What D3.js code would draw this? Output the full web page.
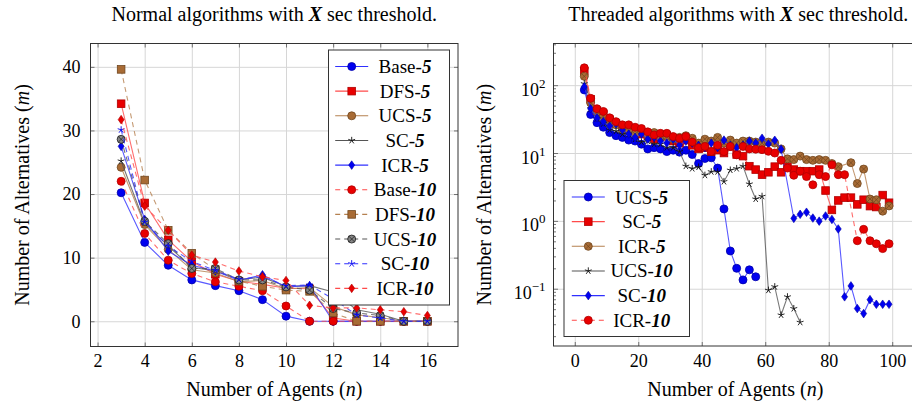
<!DOCTYPE html>
<html>
<head>
<meta charset="utf-8">
<script src="https://cdnjs.cloudflare.com/ajax/libs/d3/7.8.5/d3.min.js"></script>
<style>
body { margin: 0; background: #fff; }
text { font-family: "Liberation Serif", "DejaVu Serif", serif; fill: #000; }
</style>
</head>
<body>
<svg id="chart" width="912" height="406"></svg>
<script>
// grafico da esquerda: algoritmos normais
var agentes = [3, 4, 5, 6, 7, 8, 9, 10, 11, 12, 13, 14, 15, 16];
var base5  = [20.2, 12.4, 8.8, 6.5, 5.6, 4.8, 3.4, 0.8, 0, 0, 0, 0, 0, 0];
var dfs5   = [34.2, 18.6, 12.8, 9.4, 7.4, 6.3, 5.8, 5.2, 5.1, 0.5, 0, 0, 0, 0];
var ucs5   = [24.2, 15.2, 11.3, 8.1, 7.6, 6.2, 6.4, 5.1, 5.3, 2.3, 1.0, 0.6, 0, 0];
var sc5    = [25.2, 15.4, 11.8, 8.5, 7.9, 6.6, 6.9, 5.5, 5.6, 4.6, 1.8, 1.1, 0, 0];
var icr5   = [27.5, 16.0, 11.0, 8.8, 7.9, 6.4, 7.3, 5.4, 5.6, 0, 0, 0, 0, 0];
var base10 = [22.0, 13.8, 9.6, 7.5, 6.2, 5.5, 4.8, 2.4, 0, 0, 0, 0, 0, 0];
var dfs10  = [39.6, 22.2, 14.3, 10.7, 8.1, 6.3, 5.5, 4.9, 4.7, 1.3, 0, 0, 0, 0];
var ucs10  = [28.6, 15.7, 12.2, 8.3, 8.3, 6.5, 6.5, 5.4, 4.9, 2.0, 1.3, 0.9, 0, 0];
var sc10   = [30.1, 15.6, 11.8, 9.4, 8.0, 6.6, 7.0, 5.6, 5.7, 3.5, 1.0, 0.5, 0, 0];
var icr10  = [31.7, 18.1, 14.3, 10.4, 9.3, 7.9, 7.0, 6.4, 2.5, 2.1, 2.1, 1.8, 1.5, 0.9];
var ticksXEsq = [2, 4, 6, 8, 10, 12, 14, 16];
var ticksYEsq = [0, 10, 20, 30, 40];

// grafico da direita: algoritmos com threads
var agentesT = [3, 5, 7, 9, 11, 13, 15, 17, 19, 21, 23, 25, 27, 29, 31, 33, 35, 37, 39, 41,
                43, 45, 47, 49, 51, 53, 55, 57, 59, 61, 63, 65, 67, 69, 71, 73, 75, 77, 79, 81,
                83, 85, 87, 89, 91, 93, 95, 97, 99];
var ucs5T  = [85, 37, 28, 24, 20, 18, 17, 15.5, 15, 13.5, 11.5, 12, 11.5, 10.5, 11, 10.3, 11, 9.5, 7.0, 8.3,
              8.5, 6.0, 1.5, 0.36, 0.2, 0.135, 0.19, 0.15];
var sc5T   = [160, 62, 42, 38, 31, 27, 24, 23, 21, 19, 18, 16, 17.5, 18, 15, 14, 15.5, 13, 11.5, 12,
              10.5, 11, 10, 12.5, 9.5, 9.0, 6.4, 5.7, 4.8, 5.2, 6.3, 5.2, 6.3, 5.7, 5.4, 5.4, 5.4, 5.7, 2.8, 1.45,
              2.0, 2.2, 2.2, 1.75, 2.05, 1.65, 1.6, 2.4, 1.85];
var icr5T  = [135, 55, 40, 35, 30, 26, 22, 21, 19, 21, 18, 20, 17, 17.5, 16, 17, 18, 16.5, 14, 16,
              15, 17, 14, 15.5, 14, 15, 15, 14.5, 14, 14.5, 14, 11.5, 8.2, 8.0, 9.0, 8.0, 7.8, 8.0, 7.8, 7.0,
              6.3, null, 7.2, 3.55, 5.8, 2.1, 2.05, 1.39, 1.66];
var ucs10T = [105, 45, 32, 27, 22, 21, 19, 19, 16, 14.5, 15, 13.5, 13.5, 12, 12, 10.5, 6.4, 5.9, 6.2, 4.7,
              5.3, 5.3, 3.8, 5.6, 5.9, 6.4, 3.5, 2.1, 2.3, 0.095, 0.107, 0.041, 0.076, 0.051, 0.032];
var sc10T  = [95, 45, 33, 29, 25, 27, 22, 19, 17, 19, 16, 17, 15, 14, 16, 13, 15, 14, 13, 12,
              14, 12, 15.5, 13, 12, 13, 15, 14, 16.5, 13.6, 15.4, 11.4, null, 1.09, 1.25, 1.34, 1.1, 0.99, 1.18, 1.05,
              0.76, 0.076, 0.11, 0.051, 0.043, 0.069, 0.059, 0.059, 0.059];
var icr10T = [180, 64, 45, 41, 33, 29, 26, 26, 24, 23, 20.5, 18.5, 19.5, 19.5, 17.5, 16.5, 17.5, 14.5, 12, 12.5,
              10.5, 13, 10.5, 12.5, 9.4, 12.5, 11.5, 11.4, 11.2, 10.6, 10, 7.8, 6.0, 4.7, 5.4, 4.5, 3.4, 4.8, 4.5, 6.7,
              4.8, 4.8, null, 0.51, 0.75, 0.51, 0.46, 0.39, 0.46];
var ticksXDir = [0, 20, 40, 60, 80, 100];
var ticksYDir = [0.1, 1, 10, 100];

var azul   = {linha: "#3030ff", fill: "#0000f0", borda: "#0000a8"};
var vermelho = {linha: "#ff4a4a", fill: "#e80000", borda: "#b00000"};
var marrom = {linha: "#b5804f", fill: "#a86b35", borda: "#70461e"};
var preto  = {linha: "#555555", fill: "#111111", borda: "#111111"};
var cinza  = {linha: "#555555", fill: "#858585", borda: "#1a1a1a"};

var seriesNormais = [
    {nome: "Base", t: "5",  valores: base5,  cor: azul,     marca: "circulo",  tracejado: false},
    {nome: "DFS",  t: "5",  valores: dfs5,   cor: vermelho, marca: "quadrado", tracejado: false},
    {nome: "UCS",  t: "5",  valores: ucs5,   cor: marrom,   marca: "circulo",  tracejado: false},
    {nome: "SC",   t: "5",  valores: sc5,    cor: preto,    marca: "estrela",  tracejado: false},
    {nome: "ICR",  t: "5",  valores: icr5,   cor: azul,     marca: "losango",  tracejado: false},
    {nome: "Base", t: "10", valores: base10, cor: vermelho, marca: "circulo",  tracejado: true},
    {nome: "DFS",  t: "10", valores: dfs10,  cor: marrom,   marca: "quadrado", tracejado: true},
    {nome: "UCS",  t: "10", valores: ucs10,  cor: cinza,    marca: "otimes",   tracejado: true},
    {nome: "SC",   t: "10", valores: sc10,   cor: azul,     marca: "estrela",  tracejado: true},
    {nome: "ICR",  t: "10", valores: icr10,  cor: vermelho, marca: "losango",  tracejado: true}
];

var seriesThreads = [
    {nome: "UCS", t: "5",  valores: ucs5T,  cor: azul,     marca: "circulo",  tracejado: false},
    {nome: "SC",  t: "5",  valores: sc5T,   cor: vermelho, marca: "quadrado", tracejado: false},
    {nome: "ICR", t: "5",  valores: icr5T,  cor: marrom,   marca: "otimes",   tracejado: false},
    {nome: "UCS", t: "10", valores: ucs10T, cor: preto,    marca: "estrela",  tracejado: false},
    {nome: "SC",  t: "10", valores: sc10T,  cor: azul,     marca: "losango",  tracejado: false},
    {nome: "ICR", t: "10", valores: icr10T, cor: vermelho, marca: "circulo",  tracejado: true}
];

var svg = d3.select("#chart");

function desenharMarca(g, tipo, x, y, cor) {
    switch(tipo) {
        case "circulo":
            g.append("circle").attr("cx", x).attr("cy", y).attr("r", 4)
                .attr("fill", cor.fill).attr("stroke", cor.borda).attr("stroke-width", 0.8);
            break;
        case "quadrado":
            g.append("rect").attr("x", x - 3.8).attr("y", y - 3.8).attr("width", 7.6).attr("height", 7.6)
                .attr("fill", cor.fill).attr("stroke", cor.borda).attr("stroke-width", 0.8);
            break;
        case "losango":
            g.append("path")
                .attr("d", "M" + x + "," + (y - 4.3) + "L" + (x + 3) + "," + y + "L" + x + "," + (y + 4.3) + "L" + (x - 3) + "," + y + "Z")
                .attr("fill", cor.fill).attr("stroke", cor.borda).attr("stroke-width", 0.6);
            break;
        case "estrela":
            var d = "";
            for (var k = 0; k < 5; k++) {
                var a = (-90 + 72 * k) * Math.PI / 180;
                d += "M" + x + "," + y + "L" + (x + 3.6 * Math.cos(a)) + "," + (y + 3.6 * Math.sin(a));
            }
            g.append("path").attr("d", d).attr("fill", "none")
                .attr("stroke", cor.fill).attr("stroke-width", 0.9);
            break;
        case "otimes":
            g.append("circle").attr("cx", x).attr("cy", y).attr("r", 4)
                .attr("fill", cor.fill).attr("stroke", cor.borda).attr("stroke-width", 0.8);
            var r = 2.8;
            g.append("path")
                .attr("d", "M" + (x - r) + "," + (y - r) + "L" + (x + r) + "," + (y + r) + "M" + (x - r) + "," + (y + r) + "L" + (x + r) + "," + (y - r))
                .attr("stroke", cor.borda).attr("stroke-width", 0.7);
            break;
    }
}

function desenharSeries(g, series, xs, x, y) {
    var linha = d3.line().x(function(d) { return x(d.x); }).y(function(d) { return y(d.y); });
    series.forEach(function(s) {
        var pontos = [];
        s.valores.forEach(function(v, i) {
            if (v !== null) pontos.push({x: xs[i], y: v});
        });
        g.append("path").datum(pontos)
            .attr("d", linha)
            .attr("fill", "none")
            .attr("stroke", s.cor.linha)
            .attr("stroke-opacity", 0.8)
            .attr("stroke-width", 1.1)
            .attr("stroke-dasharray", s.tracejado ? "5,4" : null);
        var gm = g.append("g");
        pontos.forEach(function(p) {
            desenharMarca(gm, s.marca, x(p.x), y(p.y), s.cor);
        });
    });
}

function desenharLegenda(caixa, series, xAmostra, xTexto) {
    svg.append("rect")
        .attr("x", caixa.x).attr("y", caixa.y).attr("width", caixa.w).attr("height", caixa.h)
        .attr("fill", "#fff").attr("stroke", "#333").attr("stroke-width", 1);
    series.forEach(function(s, i) {
        var yl = caixa.y + 16.5 + i * 24.65;
        var g = svg.append("g");
        g.append("line")
            .attr("x1", xAmostra - 16.5).attr("x2", xAmostra + 16.5)
            .attr("y1", yl).attr("y2", yl)
            .attr("stroke", s.cor.linha).attr("stroke-width", 1.1)
            .attr("stroke-dasharray", s.tracejado ? "5,4" : null);
        desenharMarca(g, s.marca, xAmostra, yl, s.cor);
        var t = g.append("text").attr("x", xTexto).attr("y", yl + 6.5)
            .attr("text-anchor", "middle").attr("font-size", 19);
        t.append("tspan").text(s.nome + "-");
        t.append("tspan").attr("font-weight", "bold").attr("font-style", "italic").text(s.t);
    });
}

function titulo(cx, txt1, txt2) {
    var t = svg.append("text").attr("x", cx).attr("y", 21)
        .attr("text-anchor", "middle").attr("font-size", 20);
    t.append("tspan").text(txt1);
    t.append("tspan").attr("font-weight", "bold").attr("font-style", "italic").text("X");
    t.append("tspan").text(txt2);
}

function rotuloX(cx) {
    var t = svg.append("text").attr("x", cx).attr("y", 396)
        .attr("text-anchor", "middle").attr("font-size", 20);
    t.append("tspan").text("Number of Agents (");
    t.append("tspan").attr("font-style", "italic").text("n");
    t.append("tspan").text(")");
}

function rotuloY(bx, cy) {
    var t = svg.append("text")
        .attr("transform", "translate(" + bx + "," + cy + ") rotate(-90)")
        .attr("text-anchor", "middle").attr("font-size", 20);
    t.append("tspan").text("Number of Alternatives (");
    t.append("tspan").attr("font-style", "italic").text("m");
    t.append("tspan").text(")");
}

function estiloGrade(g) {
    g.select(".domain").remove();
    g.selectAll(".tick line").attr("stroke", "#d6d6d6").attr("stroke-width", 1);
}

function estiloTicks(g) {
    g.select(".domain").remove();
    g.selectAll(".tick line").attr("stroke", "#555").attr("stroke-width", 0.8);
    g.selectAll(".tick text").attr("font-size", 18)
        .attr("font-family", "'Liberation Serif', serif");
}

// ---------- esquerda ----------
var esq = {x0: 90.5, x1: 458, y0: 43.5, y1: 346.5};
var xL = d3.scaleLinear().domain([1.7, 17.3]).range([esq.x0, esq.x1]);
var yL = d3.scaleLinear().domain([-3.97, 43.67]).range([esq.y1, esq.y0]);

svg.append("g").attr("transform", "translate(0," + esq.y1 + ")")
    .call(d3.axisBottom(xL).tickValues(ticksXEsq).tickSize(-(esq.y1 - esq.y0)).tickFormat(""))
    .call(estiloGrade);
svg.append("g").attr("transform", "translate(" + esq.x0 + ",0)")
    .call(d3.axisLeft(yL).tickValues(ticksYEsq).tickSize(-(esq.x1 - esq.x0)).tickFormat(""))
    .call(estiloGrade);

svg.append("g").attr("transform", "translate(0," + esq.y1 + ")")
    .call(d3.axisBottom(xL).tickValues(ticksXEsq).tickSize(-4).tickPadding(8))
    .call(estiloTicks);
svg.append("g").attr("transform", "translate(0," + esq.y0 + ")")
    .call(d3.axisTop(xL).tickValues(ticksXEsq).tickSize(-4).tickFormat(""))
    .call(estiloTicks);
svg.append("g").attr("transform", "translate(" + esq.x0 + ",0)")
    .call(d3.axisLeft(yL).tickValues(ticksYEsq).tickSize(-4).tickPadding(10))
    .call(estiloTicks);
svg.append("g").attr("transform", "translate(" + esq.x1 + ",0)")
    .call(d3.axisRight(yL).tickValues(ticksYEsq).tickSize(-4).tickFormat(""))
    .call(estiloTicks);

svg.append("clipPath").attr("id", "clipEsq").append("rect")
    .attr("x", esq.x0).attr("y", esq.y0).attr("width", esq.x1 - esq.x0).attr("height", esq.y1 - esq.y0);
var gEsq = svg.append("g").attr("clip-path", "url(#clipEsq)");
desenharSeries(gEsq, seriesNormais, agentes, xL, yL);

svg.append("rect").attr("x", esq.x0).attr("y", esq.y0)
    .attr("width", esq.x1 - esq.x0).attr("height", esq.y1 - esq.y0)
    .attr("fill", "none").attr("stroke", "#333").attr("stroke-width", 1);

desenharLegenda({x: 328.5, y: 50, w: 121, h: 255}, seriesNormais, 351.7, 405);

titulo((esq.x0 + esq.x1) / 2, "Normal algorithms with ", " sec threshold.");
rotuloX((esq.x0 + esq.x1) / 2);
rotuloY(29, (esq.y0 + esq.y1) / 2);

// ---------- direita ----------
var dir = {x0: 553.5, x1: 923, y0: 43.5, y1: 346};
var xR = d3.scaleLinear().domain([-6.7, 109.7]).range([dir.x0, dir.x1]);
var yR = d3.scaleLog().domain([Math.pow(10, -1.844), Math.pow(10, 2.614)]).range([dir.y1, dir.y0]);

var menores = [];
[0.01, 0.1, 1, 10, 100].forEach(function(dec) {
    for (var m = 2; m <= 9; m++) {
        var v = m * dec;
        if (v > yR.domain()[0] && v < yR.domain()[1]) menores.push(v);
    }
});

svg.append("g").attr("transform", "translate(0," + dir.y1 + ")")
    .call(d3.axisBottom(xR).tickValues(ticksXDir).tickSize(-(dir.y1 - dir.y0)).tickFormat(""))
    .call(estiloGrade);
svg.append("g").attr("transform", "translate(" + dir.x0 + ",0)")
    .call(d3.axisLeft(yR).tickValues(ticksYDir).tickSize(-(dir.x1 - dir.x0)).tickFormat(""))
    .call(estiloGrade);

svg.append("g").attr("transform", "translate(0," + dir.y1 + ")")
    .call(d3.axisBottom(xR).tickValues(ticksXDir).tickSize(-4).tickPadding(8))
    .call(estiloTicks);
svg.append("g").attr("transform", "translate(0," + dir.y0 + ")")
    .call(d3.axisTop(xR).tickValues(ticksXDir).tickSize(-4).tickFormat(""))
    .call(estiloTicks);
svg.append("g").attr("transform", "translate(" + dir.x0 + ",0)")
    .call(d3.axisLeft(yR).tickValues(menores).tickSize(-2.5).tickFormat(""))
    .call(estiloTicks);
svg.append("g").attr("transform", "translate(" + dir.x0 + ",0)")
    .call(d3.axisLeft(yR).tickValues(ticksYDir).tickSize(-4.5).tickFormat(""))
    .call(estiloTicks)
    .call(function(g) {
        g.selectAll(".tick").each(function(d) {
            var t = d3.select(this).append("text")
                .attr("x", -8).attr("y", 10).attr("text-anchor", "end")
                .attr("font-size", 18).attr("fill", "#000");
            var e = Math.round(Math.log10(d));
            t.append("tspan").text("10");
            t.append("tspan").attr("dy", -8).attr("font-size", 13)
                .text(e < 0 ? "\u2212" + (-e) : String(e));
        });
    });

svg.append("clipPath").attr("id", "clipDir").append("rect")
    .attr("x", dir.x0).attr("y", dir.y0).attr("width", dir.x1 - dir.x0).attr("height", dir.y1 - dir.y0);
var gDir = svg.append("g").attr("clip-path", "url(#clipDir)");
desenharSeries(gDir, seriesThreads, agentesT, xR, yR);

svg.append("rect").attr("x", dir.x0).attr("y", dir.y0)
    .attr("width", dir.x1 - dir.x0).attr("height", dir.y1 - dir.y0)
    .attr("fill", "none").attr("stroke", "#333").attr("stroke-width", 1);

desenharLegenda({x: 564, y: 180.5, w: 125.5, h: 156}, seriesThreads, 588.3, 641.7);

titulo((dir.x0 + dir.x1) / 2, "Threaded algorithms with ", " sec threshold.");
rotuloX((dir.x0 + dir.x1) / 2 - 3);
rotuloY(491, (dir.y0 + dir.y1) / 2);
</script>
</body>
</html>
